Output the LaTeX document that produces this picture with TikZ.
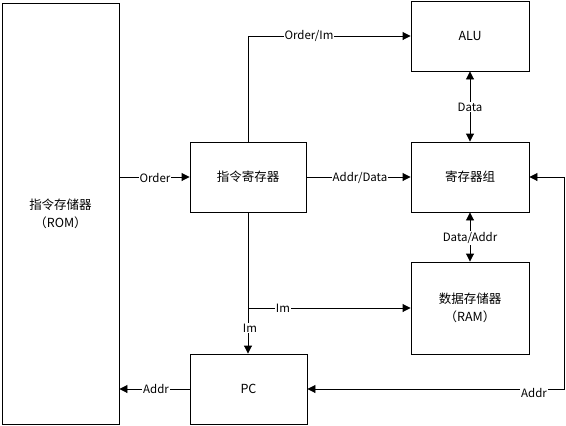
\documentclass[tikz,border=0pt]{standalone}
\usepackage{fontspec}
\setmainfont{Noto Sans CJK SC}
\usetikzlibrary{arrows.meta}
\begin{document}
\begin{tikzpicture}[x=1pt,y=-1pt,
  box/.style={draw=black,line width=0.9pt,minimum width=#1,inner sep=0pt,align=center,font=\fontsize{12.5}{18}\selectfont},
  box/.default=117pt,
  conn/.style={line width=0.9pt,-{Triangle[length=8pt,width=8pt]}},
  biconn/.style={line width=0.9pt,{Triangle[length=8pt,width=8pt]}-{Triangle[length=8pt,width=8pt]}},
  lbl/.style={fill=white,inner sep=1pt,font=\fontsize{11.5}{13}\selectfont}]
\useasboundingbox (0,0) rectangle (566,426);
\node[box=117pt,minimum height=421pt] (rom) at (60.5,213.5) {指令存储器\\（ROM）};
\node[box=116pt,minimum height=70pt] (ir) at (248,177) {指令寄存器};
\node[box=118pt,minimum height=70pt] (alu) at (470,36) {ALU};
\node[box=118pt,minimum height=70pt] (reg) at (470,177) {寄存器组};
\node[box=118pt,minimum height=92pt] (ram) at (470,308) {数据存储器\\（RAM）};
\node[box=117pt,minimum height=70pt] (pc) at (248.5,389) {PC};
\coordinate (br) at (248,308);
\coordinate (rc) at (564,389);
% connectors
\draw[conn] (rom.east |- ir.west) -- (ir.west);
\node[lbl] (l1) at (155,178) {Order};
\draw[conn] (ir.north) |- (alu.west);
\node[lbl] (l2) at (309,36) {Order/Im};
\draw[conn] (ir.east) -- (reg.west);
\node[lbl] (l3) at (360,178) {Addr/Data};
\draw[biconn] (alu.south) -- (reg.north);
\node[lbl] (l4) at (470,107) {Data};
\draw[biconn] (reg.south) -- (ram.north);
\node[lbl] (l5) at (470,238) {Data/Addr};
\draw[conn] (ir.south -| br) -- (br |- pc.north);
\node[lbl] (l6) at (250,328) {Im};
\draw[conn] (br) -- (br -| ram.west);
\node[lbl] (l7) at (283,308) {Im};
\draw[conn] (pc.west) -- (pc.west -| rom.east);
\node[lbl] (l8) at (156,389) {Addr};
\draw[biconn] (pc.east) -- (rc) |- (reg.east);
\node[lbl] (l9) at (534,393) {Addr};
\end{tikzpicture}
\end{document}
